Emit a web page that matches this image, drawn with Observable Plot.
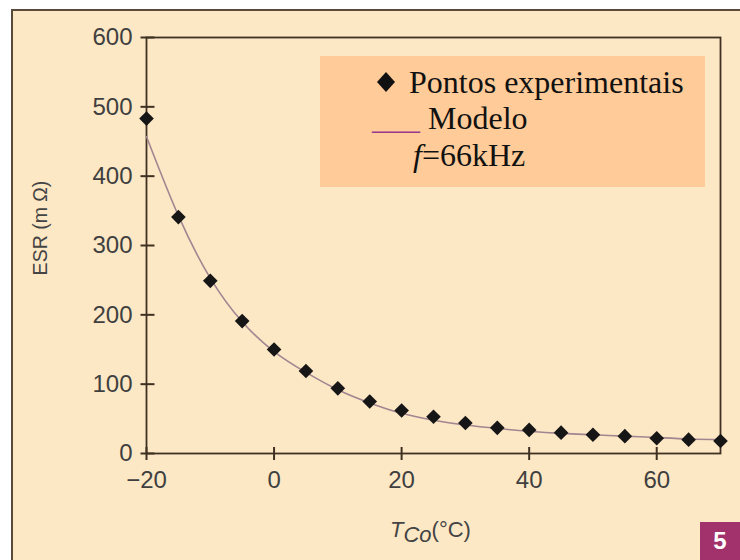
<!DOCTYPE html>
<html><head><meta charset="utf-8">
<script src="https://cdn.jsdelivr.net/npm/d3@7"></script>
<script src="https://cdn.jsdelivr.net/npm/@observablehq/plot@0.6"></script>
<style>
html,body{margin:0;padding:0;background:#fff;}
#wrap{position:relative;width:740px;height:560px;overflow:hidden;background:#fff;}
#panel{position:absolute;left:11px;top:9px;width:780px;height:620px;background:#FDE8C6;border:2px solid #5a4a3a;box-sizing:border-box;}
#chart{position:absolute;left:0;top:0;z-index:2;}
#legend{position:absolute;left:320px;top:56px;width:385px;height:131px;background:#FFCB98;z-index:3;}
.lg{position:absolute;font-family:"Liberation Serif","Times New Roman",serif;font-size:32px;line-height:32px;color:#111;white-space:nowrap;z-index:4;}
#dia{position:absolute;left:377px;top:72px;width:18px;height:20px;background:#111;clip-path:polygon(50% 0,100% 50%,50% 100%,0 50%);z-index:4;}
#ytitle{position:absolute;left:40px;top:228px;transform:translate(-50%,-50%) rotate(-90deg);font-family:"Liberation Sans",Arial,sans-serif;font-size:19.5px;color:#444;white-space:nowrap;z-index:4;}
#xtitle{position:absolute;left:390px;top:519px;font-family:"Liberation Sans",Arial,sans-serif;font-size:22px;line-height:22px;color:#444;white-space:nowrap;z-index:4;}
#xtitle sub{font-size:22px;vertical-align:-5px;line-height:0;}
#badge{position:absolute;left:700px;top:522px;width:40px;height:38px;background:#A2326B;color:#fff;font-family:"Liberation Sans",Arial,sans-serif;font-weight:bold;font-size:24px;line-height:38px;text-align:center;z-index:4;}
</style></head>
<body>
<div id="wrap">
  <div id="panel"></div>
  <div id="chart"></div>
  <div id="legend"></div>
  <div id="dia"></div>
  <div class="lg" style="left:409px;top:66px;">Pontos experimentais</div>
  <div class="lg" style="left:372px;top:102px;"><span style="color:#9a3a8c">___</span> Modelo</div>
  <div class="lg" style="left:413px;top:139px;"><i>f</i>=66kHz</div>
  <div id="ytitle">ESR (m Ω)</div>
  <div id="xtitle"><i>T</i><sub><i>Co</i></sub>(°C)</div>
  <div id="badge">5</div>
</div>
<script>
// Experimental points (temperature °C, ESR mΩ)
const tempC = [-20,-15,-10,-5,0,5,10,15,20,25,30,35,40,45,50,55,60,65,70];
const esrMeasured = [483,341,249,191,150,119,94,75,62,53,44,37,34,30,27,25,22,20,18];
// Model curve
const modelT = [-20,-15,-10,-5,0,5,10,15,20,25,30,35,40,45,50,55,60,65,70];
const esrModel = [457,343,253,190,147,117,92,73,58,48,41,36,32,29,27,25,23,21,20];
const xTicks = [-20,0,20,40,60];
const yTicks = [0,100,200,300,400,500,600];

const points = tempC.map((t,i)=>({t, v: esrMeasured[i]}));
const model = modelT.map((t,i)=>({t, v: esrModel[i]}));

const axisColor = "#3f3122";
const textColor = "#3f3f3f";
const W = 740, H = 560, ML = 146, MR = 20, MT = 37, MB = 107;
const frameW = W - ML - MR, frameH = H - MT - MB;

const chart = Plot.plot({
  width: W,
  height: H,
  marginLeft: ML,
  marginRight: MR,
  marginTop: MT,
  marginBottom: MB,
  style: {background: "transparent", fontFamily: "'Liberation Sans', Arial, sans-serif", overflow: "visible"},
  x: {domain: [-20, 70]},
  y: {domain: [0, 600]},
  marks: [
    Plot.frame({stroke: axisColor, strokeWidth: 1.8}),
    // tick marks crossing the axes
    Plot.tickY(yTicks, {y: d => d, stroke: axisColor, strokeWidth: 2, insetLeft: -5.5, insetRight: frameW - 8.5}),
    Plot.tickX(xTicks, {x: d => d, stroke: axisColor, strokeWidth: 2, insetBottom: -7, insetTop: frameH - 6}),
    Plot.axisY({ticks: yTicks, tickSize: 0, tickPadding: 14, fontSize: 24, fill: textColor, label: null}),
    Plot.axisX({ticks: xTicks, tickSize: 0, tickPadding: 17, fontSize: 24, fill: textColor, label: null}),
    Plot.line(model, {x: "t", y: "v", stroke: "#a38591", strokeWidth: 1.6, curve: "natural"}),
    Plot.dot(points, {x: "t", y: "v", symbol: "diamond2", r: 6.6, fill: "#161616", stroke: "none"})
  ]
});
document.getElementById("chart").appendChild(chart);
</script>
</body></html>
